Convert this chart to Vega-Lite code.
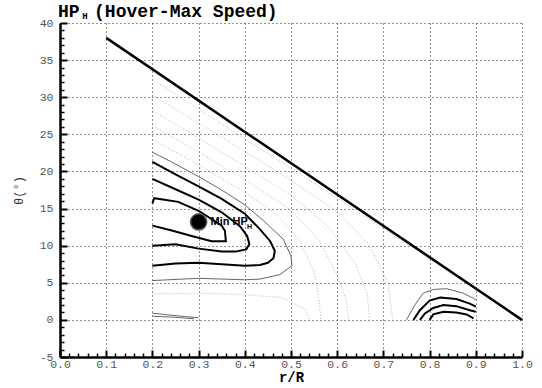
{
  "$schema": "https://vega.github.io/schema/vega-lite/v6.json",
  "autosize": {"type": "none"},
  "padding": {"left": 60, "top": 23, "right": 20, "bottom": 31},
  "width": 462,
  "height": 334,
  "background": "white",
  "config": {
    "view": {"stroke": null},
    "axis": {
      "labelFont": "Liberation Mono",
      "labelFontSize": 11.5,
      "labelColor": "#555",
      "titleFont": "Liberation Mono",
      "titleColor": "black",
      "domainColor": "black",
      "domainWidth": 2.5,
      "tickColor": "black",
      "gridColor": "black",
      "gridDash": [1, 3],
      "gridWidth": 1,
      "labelOverlap": false,
      "labelFlush": false,
      "tickCount": 200
    }
  },
  "datasets": {
    "contours": [
      {"c": "A", "o": 0, "x": 0.2, "y": 15.7}, {"c": "A", "o": 1, "x": 0.204, "y": 16.4}, {"c": "A", "o": 2, "x": 0.256, "y": 15.9}, {"c": "A", "o": 3, "x": 0.3, "y": 14.7}, {"c": "A", "o": 4, "x": 0.35, "y": 12.7}, {"c": "A", "o": 5, "x": 0.357, "y": 12.0}, {"c": "A", "o": 6, "x": 0.359, "y": 10.6}, {"c": "A", "o": 7, "x": 0.328, "y": 10.6}, {"c": "A", "o": 8, "x": 0.285, "y": 11.3}, {"c": "A", "o": 9, "x": 0.242, "y": 12.05}, {"c": "A", "o": 10, "x": 0.2, "y": 12.7},
      {"c": "B", "o": 0, "x": 0.2, "y": 19.0}, {"c": "B", "o": 1, "x": 0.25, "y": 17.6}, {"c": "B", "o": 2, "x": 0.3, "y": 16.2}, {"c": "B", "o": 3, "x": 0.35, "y": 14.5}, {"c": "B", "o": 4, "x": 0.39, "y": 12.6}, {"c": "B", "o": 5, "x": 0.405, "y": 11.3}, {"c": "B", "o": 6, "x": 0.41, "y": 10.2}, {"c": "B", "o": 7, "x": 0.403, "y": 9.5}, {"c": "B", "o": 8, "x": 0.38, "y": 9.2}, {"c": "B", "o": 9, "x": 0.35, "y": 9.2}, {"c": "B", "o": 10, "x": 0.3, "y": 9.6}, {"c": "B", "o": 11, "x": 0.25, "y": 10.2}, {"c": "B", "o": 12, "x": 0.2, "y": 10.0},
      {"c": "C", "o": 0, "x": 0.2, "y": 21.3}, {"c": "C", "o": 1, "x": 0.25, "y": 19.6}, {"c": "C", "o": 2, "x": 0.3, "y": 18.0}, {"c": "C", "o": 3, "x": 0.35, "y": 16.3}, {"c": "C", "o": 4, "x": 0.4, "y": 14.3}, {"c": "C", "o": 5, "x": 0.433, "y": 12.2}, {"c": "C", "o": 6, "x": 0.455, "y": 10.6}, {"c": "C", "o": 7, "x": 0.465, "y": 9.3}, {"c": "C", "o": 8, "x": 0.462, "y": 8.3}, {"c": "C", "o": 9, "x": 0.45, "y": 7.7}, {"c": "C", "o": 10, "x": 0.433, "y": 7.4}, {"c": "C", "o": 11, "x": 0.4, "y": 7.3}, {"c": "C", "o": 12, "x": 0.35, "y": 7.5}, {"c": "C", "o": 13, "x": 0.3, "y": 7.7}, {"c": "C", "o": 14, "x": 0.25, "y": 7.6}, {"c": "C", "o": 15, "x": 0.2, "y": 7.3},
      {"c": "R1", "o": 0, "x": 0.8, "y": 0.0}, {"c": "R1", "o": 1, "x": 0.808, "y": 0.74}, {"c": "R1", "o": 2, "x": 0.83, "y": 1.1}, {"c": "R1", "o": 3, "x": 0.858, "y": 1.0}, {"c": "R1", "o": 4, "x": 0.88, "y": 0.74}, {"c": "R1", "o": 5, "x": 0.895, "y": 0.2},
      {"c": "R2", "o": 0, "x": 0.779, "y": 0.0}, {"c": "R2", "o": 1, "x": 0.79, "y": 0.87}, {"c": "R2", "o": 2, "x": 0.808, "y": 1.6}, {"c": "R2", "o": 3, "x": 0.83, "y": 2.0}, {"c": "R2", "o": 4, "x": 0.858, "y": 1.85}, {"c": "R2", "o": 5, "x": 0.887, "y": 1.3}, {"c": "R2", "o": 6, "x": 0.9, "y": 1.1},
      {"c": "R3", "o": 0, "x": 0.765, "y": 0.0}, {"c": "R3", "o": 1, "x": 0.779, "y": 1.3}, {"c": "R3", "o": 2, "x": 0.8, "y": 2.6}, {"c": "R3", "o": 3, "x": 0.823, "y": 3.0}, {"c": "R3", "o": 4, "x": 0.858, "y": 2.8}, {"c": "R3", "o": 5, "x": 0.887, "y": 2.2}, {"c": "R3", "o": 6, "x": 0.9, "y": 1.8}
    ],
    "thin": [
      {"c": "D", "o": 0, "x": 0.2, "y": 22.6}, {"c": "D", "o": 1, "x": 0.25, "y": 21.0}, {"c": "D", "o": 2, "x": 0.3, "y": 19.3}, {"c": "D", "o": 3, "x": 0.35, "y": 17.5}, {"c": "D", "o": 4, "x": 0.4, "y": 15.5}, {"c": "D", "o": 5, "x": 0.44, "y": 13.4}, {"c": "D", "o": 6, "x": 0.483, "y": 10.9}, {"c": "D", "o": 7, "x": 0.5, "y": 8.6}, {"c": "D", "o": 8, "x": 0.502, "y": 7.3}, {"c": "D", "o": 9, "x": 0.476, "y": 6.1}, {"c": "D", "o": 10, "x": 0.433, "y": 5.5}, {"c": "D", "o": 11, "x": 0.4, "y": 5.4}, {"c": "D", "o": 12, "x": 0.3, "y": 5.6}, {"c": "D", "o": 13, "x": 0.2, "y": 5.3},
      {"c": "R4", "o": 0, "x": 0.75, "y": 0.0}, {"c": "R4", "o": 1, "x": 0.768, "y": 2.0}, {"c": "R4", "o": 2, "x": 0.786, "y": 3.6}, {"c": "R4", "o": 3, "x": 0.808, "y": 4.1}, {"c": "R4", "o": 4, "x": 0.837, "y": 4.2}, {"c": "R4", "o": 5, "x": 0.873, "y": 3.6}, {"c": "R4", "o": 6, "x": 0.895, "y": 2.9}, {"c": "R4", "o": 7, "x": 0.9, "y": 2.7},
      {"c": "L1", "o": 0, "x": 0.2, "y": 0.9}, {"c": "L1", "o": 1, "x": 0.23, "y": 0.7}, {"c": "L1", "o": 2, "x": 0.27, "y": 0.45}, {"c": "L1", "o": 3, "x": 0.3, "y": 0.3},
      {"c": "L2", "o": 0, "x": 0.2, "y": 0.5}, {"c": "L2", "o": 1, "x": 0.25, "y": 0.35}, {"c": "L2", "o": 2, "x": 0.29, "y": 0.15}
    ],
    "faint": [
      {"c": "F1", "o": 0, "x": 0.2, "y": 24.3}, {"c": "F1", "o": 1, "x": 0.3, "y": 20.9}, {"c": "F1", "o": 2, "x": 0.4, "y": 17.2}, {"c": "F1", "o": 3, "x": 0.47, "y": 14.2}, {"c": "F1", "o": 4, "x": 0.52, "y": 10.5}, {"c": "F1", "o": 5, "x": 0.55, "y": 6.5}, {"c": "F1", "o": 6, "x": 0.56, "y": 3.0}, {"c": "F1", "o": 7, "x": 0.565, "y": 0.0},
      {"c": "F2", "o": 0, "x": 0.2, "y": 26.2}, {"c": "F2", "o": 1, "x": 0.3, "y": 22.6}, {"c": "F2", "o": 2, "x": 0.4, "y": 18.9}, {"c": "F2", "o": 3, "x": 0.5, "y": 14.8}, {"c": "F2", "o": 4, "x": 0.56, "y": 10.8}, {"c": "F2", "o": 5, "x": 0.6, "y": 6.0}, {"c": "F2", "o": 6, "x": 0.62, "y": 2.5}, {"c": "F2", "o": 7, "x": 0.625, "y": 0.0},
      {"c": "F3", "o": 0, "x": 0.2, "y": 28.2}, {"c": "F3", "o": 1, "x": 0.3, "y": 24.5}, {"c": "F3", "o": 2, "x": 0.4, "y": 20.7}, {"c": "F3", "o": 3, "x": 0.5, "y": 16.8}, {"c": "F3", "o": 4, "x": 0.58, "y": 12.6}, {"c": "F3", "o": 5, "x": 0.64, "y": 7.5}, {"c": "F3", "o": 6, "x": 0.665, "y": 3.5}, {"c": "F3", "o": 7, "x": 0.67, "y": 0.0},
      {"c": "F4", "o": 0, "x": 0.2, "y": 30.3}, {"c": "F4", "o": 1, "x": 0.3, "y": 26.5}, {"c": "F4", "o": 2, "x": 0.4, "y": 22.7}, {"c": "F4", "o": 3, "x": 0.5, "y": 18.8}, {"c": "F4", "o": 4, "x": 0.6, "y": 14.6}, {"c": "F4", "o": 5, "x": 0.67, "y": 10.0}, {"c": "F4", "o": 6, "x": 0.71, "y": 5.0}, {"c": "F4", "o": 7, "x": 0.72, "y": 0.0},
      {"c": "F5", "o": 0, "x": 0.2, "y": 32.4}, {"c": "F5", "o": 1, "x": 0.3, "y": 28.4}, {"c": "F5", "o": 2, "x": 0.4, "y": 24.4}, {"c": "F5", "o": 3, "x": 0.5, "y": 20.4}, {"c": "F5", "o": 4, "x": 0.6, "y": 16.4}, {"c": "F5", "o": 5, "x": 0.7, "y": 12.3}, {"c": "F5", "o": 6, "x": 0.8, "y": 8.2}, {"c": "F5", "o": 7, "x": 0.9, "y": 4.1},
      {"c": "F6", "o": 0, "x": 0.2, "y": 3.5}, {"c": "F6", "o": 1, "x": 0.3, "y": 3.6}, {"c": "F6", "o": 2, "x": 0.4, "y": 3.4}, {"c": "F6", "o": 3, "x": 0.48, "y": 3.0}, {"c": "F6", "o": 4, "x": 0.53, "y": 1.5}, {"c": "F6", "o": 5, "x": 0.54, "y": 0.0}
    ],
    "diag": [
      {"x": 0.1, "y": 38.0}, {"x": 1.0, "y": 0.0}
    ],
    "minpt": [
      {"x": 0.3, "y": 13.2, "label": "Min HP", "sub": "H", "sx": 0.405, "sy": 12.5}
    ],
    "titlemain": [
      {"x": 0.0, "y": 40.8, "t": "HP"},
      {"x": 0.078, "y": 40.8, "t": "(Hover-Max Speed)"}
    ],
    "titlesub": [
      {"x": 0.054, "y": 41.0, "t": "H"}
    ]
  },
  "layer": [
    {
      "data": {"name": "faint"},
      "mark": {"type": "line", "color": "#888", "strokeWidth": 0.8, "strokeDash": [1, 2], "opacity": 0.8},
      "encoding": {
        "x": {"field": "x", "type": "quantitative", "scale": {"domain": [0, 1], "nice": false},
          "axis": {
            "title": "r/R", "titleFontSize": 14, "titleFontWeight": "bold", "titlePadding": -2,
            "values": [0,0.02,0.04,0.06,0.08,0.1,0.12,0.14,0.16,0.18,0.2,0.22,0.24,0.26,0.28,0.3,0.32,0.34,0.36,0.38,0.4,0.42,0.44,0.46,0.48,0.5,0.52,0.54,0.56,0.58,0.6,0.62,0.64,0.66,0.68,0.7,0.72,0.74,0.76,0.78,0.8,0.82,0.84,0.86,0.88,0.9,0.92,0.94,0.96,0.98,1.0],
            "labelExpr": "abs(datum.value*10 - round(datum.value*10)) < 0.001 ? format(datum.value, '.1f') : ''",
            "grid": true,
            "gridOpacity": {"condition": {"test": "abs(datum.value*10 - round(datum.value*10)) < 0.001 && datum.value > 0.001", "value": 0.85}, "value": 0},
            "tickSize": {"condition": {"test": "abs(datum.value*10 - round(datum.value*10)) < 0.001", "value": -7}, "value": -4},
            "tickWidth": {"condition": {"test": "abs(datum.value*10 - round(datum.value*10)) < 0.001", "value": 2}, "value": 1.5},
            "labelPadding": 8
          }},
        "y": {"field": "y", "type": "quantitative", "scale": {"domain": [-5, 40], "nice": false},
          "axis": {
            "title": "θ(°)", "titleFontSize": 12, "titleFontWeight": "normal", "titleColor": "#333", "titlePadding": 14,
            "values": [-5,-4,-3,-2,-1,0,1,2,3,4,5,6,7,8,9,10,11,12,13,14,15,16,17,18,19,20,21,22,23,24,25,26,27,28,29,30,31,32,33,34,35,36,37,38,39,40],
            "labelExpr": "datum.value % 5 === 0 ? datum.value : ''",
            "grid": true,
            "gridOpacity": {"condition": {"test": "datum.value % 5 === 0 && datum.value > -5", "value": 0.85}, "value": 0},
            "tickSize": {"condition": {"test": "datum.value % 5 === 0", "value": -7}, "value": -4},
            "tickWidth": {"condition": {"test": "datum.value % 5 === 0", "value": 2}, "value": 1.5},
            "labelPadding": 14
          }},
        "detail": {"field": "c"},
        "order": {"field": "o"}
      }
    },
    {
      "data": {"name": "thin"},
      "mark": {"type": "line", "color": "#666", "strokeWidth": 1},
      "encoding": {
        "x": {"field": "x", "type": "quantitative"},
        "y": {"field": "y", "type": "quantitative"},
        "detail": {"field": "c"},
        "order": {"field": "o"}
      }
    },
    {
      "data": {"name": "contours"},
      "mark": {"type": "line", "color": "black", "strokeWidth": 2},
      "encoding": {
        "x": {"field": "x", "type": "quantitative"},
        "y": {"field": "y", "type": "quantitative"},
        "detail": {"field": "c"},
        "order": {"field": "o"}
      }
    },
    {
      "data": {"name": "diag"},
      "mark": {"type": "line", "color": "black", "strokeWidth": 2.5},
      "encoding": {
        "x": {"field": "x", "type": "quantitative"},
        "y": {"field": "y", "type": "quantitative"}
      }
    },
    {
      "data": {"name": "minpt"},
      "mark": {"type": "circle", "color": "black", "opacity": 1, "size": 260, "stroke": "#555", "strokeWidth": 1.5},
      "encoding": {
        "x": {"field": "x", "type": "quantitative"},
        "y": {"field": "y", "type": "quantitative"}
      }
    },
    {
      "data": {"name": "minpt"},
      "mark": {"type": "text", "align": "left", "baseline": "middle", "dx": 12, "font": "Liberation Sans", "fontSize": 11, "fontWeight": "bold", "color": "black"},
      "encoding": {
        "x": {"field": "x", "type": "quantitative"},
        "y": {"field": "y", "type": "quantitative"},
        "text": {"field": "label"}
      }
    },
    {
      "data": {"name": "minpt"},
      "mark": {"type": "text", "align": "left", "baseline": "middle", "font": "Liberation Sans", "fontSize": 7, "fontWeight": "bold", "color": "black"},
      "encoding": {
        "x": {"field": "sx", "type": "quantitative"},
        "y": {"field": "sy", "type": "quantitative"},
        "text": {"field": "sub"}
      }
    },
    {
      "data": {"name": "titlemain"},
      "mark": {"type": "text", "align": "left", "baseline": "alphabetic", "dx": -2, "font": "Liberation Mono", "fontSize": 18, "fontWeight": "bold", "color": "black"},
      "encoding": {
        "x": {"field": "x", "type": "quantitative"},
        "y": {"field": "y", "type": "quantitative"},
        "text": {"field": "t"}
      }
    },
    {
      "data": {"name": "titlesub"},
      "mark": {"type": "text", "align": "center", "baseline": "middle", "font": "Liberation Mono", "fontSize": 9, "fontWeight": "bold", "color": "black"},
      "encoding": {
        "x": {"field": "x", "type": "quantitative"},
        "y": {"field": "y", "type": "quantitative"},
        "text": {"field": "t"}
      }
    }
  ]
}
